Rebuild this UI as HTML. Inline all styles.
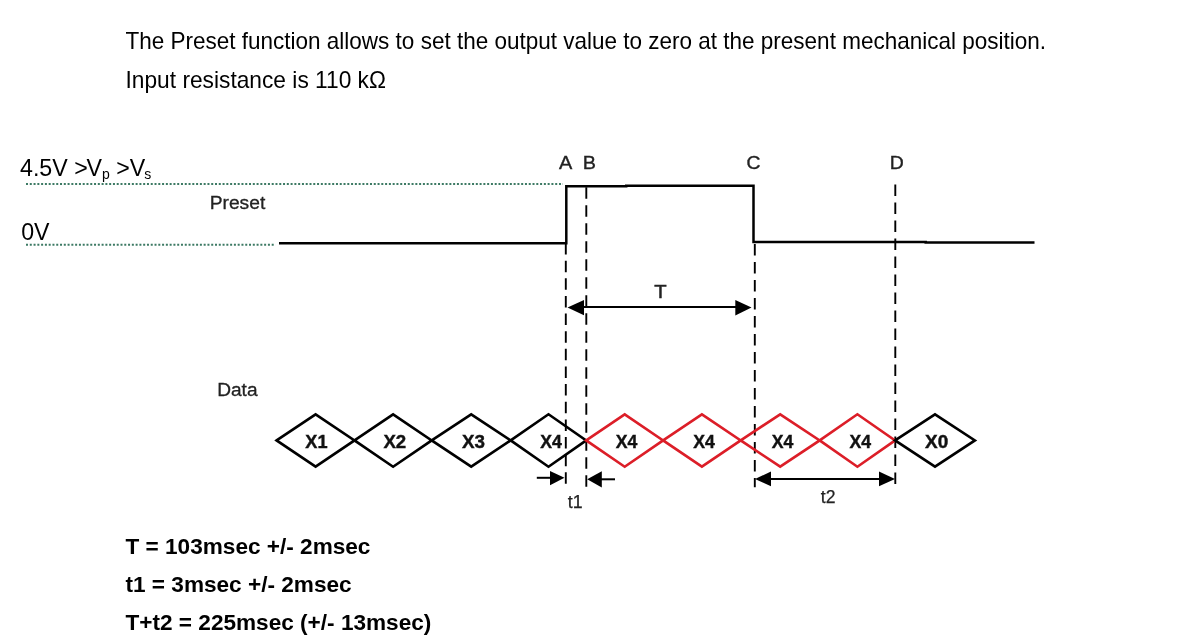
<!DOCTYPE html>
<html><head><meta charset="utf-8">
<style>
html,body{margin:0;padding:0;background:#fff;}
body{width:1191px;height:641px;overflow:hidden;position:relative;}
svg{position:absolute;left:0;top:0;display:block;filter:blur(0.45px);}
text{font-family:"Liberation Sans", sans-serif;}
</style></head>
<body>
<svg width="1191" height="641" viewBox="0 0 1191 641">
<!-- header text -->
<g font-size="23.2" fill="#000">
<text x="125.5" y="48.9" textLength="920.5" lengthAdjust="spacingAndGlyphs">The Preset function allows to set the output value to zero at the present mechanical position.</text>
<text x="125.5" y="87.7" textLength="260.5" lengthAdjust="spacingAndGlyphs">Input resistance is 110 kΩ</text>
</g>
<!-- level labels -->
<g font-size="23.2" fill="#000">
<text x="20" y="175.5">4.5V &gt;<tspan dx="-1.2">V</tspan><tspan font-size="14" dy="3.2" dx="0">p</tspan><tspan dy="-3.2" dx="0.1"> &gt;V</tspan><tspan font-size="14" dy="3.2" dx="-1.1">s</tspan></text>
<text x="21.2" y="239.8">0V</text>
</g>
<!-- green dotted -->
<g stroke="#3d7a64" stroke-width="2" stroke-dasharray="2 1.78">
<line x1="26" y1="184" x2="563" y2="184"/>
<line x1="26" y1="244.8" x2="275.5" y2="244.8"/>
</g>
<!-- Preset / Data labels -->
<g font-size="18.8" fill="#222" stroke="#222" stroke-width="0.3">
<text x="209.7" y="209" textLength="55.6" lengthAdjust="spacingAndGlyphs">Preset</text>
<text x="217.2" y="395.7" textLength="40.3" lengthAdjust="spacingAndGlyphs">Data</text>
</g>
<g font-size="18" fill="#222" stroke="#222" stroke-width="0.35">
<text x="559" y="168.9" textLength="13.3" lengthAdjust="spacingAndGlyphs">A</text>
<text x="582.8" y="168.9" textLength="13.2" lengthAdjust="spacingAndGlyphs">B</text>
<text x="746.6" y="169.1" textLength="14" lengthAdjust="spacingAndGlyphs">C</text>
<text x="889.8" y="169.1" textLength="14" lengthAdjust="spacingAndGlyphs">D</text>
</g>
<!-- preset waveform -->
<path d="M279 243.2 H566.3 V186.2 H626.2 V185.7 H753.5 V241.9 H925.7 V242.6 H1034.5" fill="none" stroke="#000" stroke-width="2.5" stroke-linejoin="miter"/>
<!-- dashed verticals -->
<g stroke="#000" stroke-width="1.9" fill="none">
<line x1="565.8" y1="243" x2="565.8" y2="485.3" stroke-dasharray="11.5 6.14"/>
<line x1="586.3" y1="187.3" x2="586.3" y2="487" stroke-dasharray="11.5 6.5"/>
<line x1="754.8" y1="244" x2="754.8" y2="487.2" stroke-dasharray="11.5 6.5"/>
<line x1="895.3" y1="184.4" x2="895.3" y2="485.2" stroke-dasharray="11.5 6.5"/>
</g>
<!-- T arrow -->
<line x1="580" y1="307" x2="740" y2="307" stroke="#000" stroke-width="2.2"/>
<polygon points="567.5,307.5 584,300 584,315.3" fill="#000"/>
<polygon points="751.5,307.5 735.3,300 735.3,315.4" fill="#000"/>
<text x="654.2" y="298.2" font-size="18" fill="#222" stroke="#222" stroke-width="0.45" textLength="12.4" lengthAdjust="spacingAndGlyphs">T</text>
<!-- data diamonds -->
<g fill="none" stroke-width="2.6" stroke-linejoin="miter">
<path stroke="#000" d="M276.6 440.4 L315.6 414.3 L354.5 440.4 L315.6 466.7 Z"/>
<path stroke="#000" d="M354.5 440.4 L393.1 414.3 L431.7 440.4 L393.1 466.7 Z"/>
<path stroke="#000" d="M431.7 440.4 L471.2 414.3 L510.7 440.4 L471.2 466.7 Z"/>
<path stroke="#000" d="M510.7 440.4 L548.5 414.3 L586.2 440.4 L548.5 466.7 Z"/>
<path stroke="#dc1e28" d="M586.2 440.4 L624.7 414.3 L663.1 440.4 L624.7 466.7 Z"/>
<path stroke="#dc1e28" d="M663.1 440.4 L701.9 414.3 L740.7 440.4 L701.9 466.7 Z"/>
<path stroke="#dc1e28" d="M740.7 440.4 L780.2 414.3 L819.7 440.4 L780.2 466.7 Z"/>
<path stroke="#dc1e28" d="M819.7 440.4 L857.4 414.3 L895.1 440.4 L857.4 466.7 Z"/>
<path stroke="#000" d="M895.1 440.4 L935 414.3 L974.9 440.4 L935 466.7 Z"/>
</g>
<g font-size="17.5" font-weight="bold" fill="#111" stroke="#111" stroke-width="0.4" text-anchor="middle">
<text x="316.4" y="447.9" textLength="22.2" lengthAdjust="spacingAndGlyphs">X1</text>
<text x="394.8" y="447.9" textLength="22.8" lengthAdjust="spacingAndGlyphs">X2</text>
<text x="473.4" y="447.9" textLength="23" lengthAdjust="spacingAndGlyphs">X3</text>
<text x="551" y="447.9" textLength="21.6" lengthAdjust="spacingAndGlyphs">X4</text>
<text x="626.5" y="447.9" textLength="21.6" lengthAdjust="spacingAndGlyphs">X4</text>
<text x="704" y="447.9" textLength="21.6" lengthAdjust="spacingAndGlyphs">X4</text>
<text x="782.6" y="447.9" textLength="21.6" lengthAdjust="spacingAndGlyphs">X4</text>
<text x="860.2" y="447.9" textLength="21.6" lengthAdjust="spacingAndGlyphs">X4</text>
<text x="936.6" y="447.9" textLength="23.2" lengthAdjust="spacingAndGlyphs">X0</text>
</g>
<!-- t1 arrows -->
<line x1="536.8" y1="477.8" x2="555" y2="477.8" stroke="#000" stroke-width="2"/>
<polygon points="564.5,477.8 550,471 550,485.2" fill="#000"/>
<line x1="598" y1="479.3" x2="615" y2="479.3" stroke="#000" stroke-width="2"/>
<polygon points="587.2,479.3 601.8,471.3 601.8,487.4" fill="#000"/>
<text x="567.7" y="508.2" font-size="17.8" fill="#222" stroke="#222" stroke-width="0.25">t1</text>
<!-- t2 arrow -->
<line x1="765" y1="479" x2="885" y2="479" stroke="#000" stroke-width="2.2"/>
<polygon points="755,479 771,471.5 771,486.3" fill="#000"/>
<polygon points="895,479 879,471.5 879,486.3" fill="#000"/>
<text x="820.8" y="502.5" font-size="17.6" fill="#222" stroke="#222" stroke-width="0.25">t2</text>
<!-- bottom text -->
<g font-size="22.6" font-weight="bold" fill="#000">
<text x="125.5" y="553.6">T = 103msec +/- 2msec</text>
<text x="125.5" y="591.7">t1 = 3msec +/- 2msec</text>
<text x="125.5" y="629.8">T+t2 = 225msec (+/- 13msec)</text>
</g>
</svg>
</body></html>
